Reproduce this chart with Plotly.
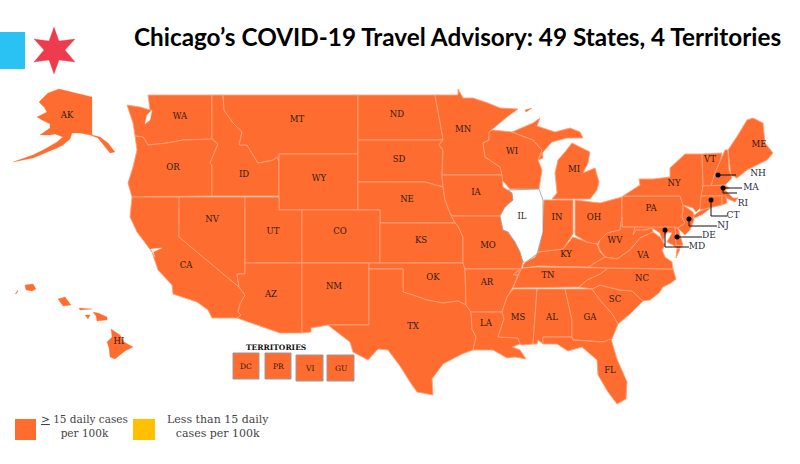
import plotly.graph_objects as go

TITLE = "Chicago’s COVID-19 Travel Advisory: 49 States, 4 Territories"
ORANGE = "#FF6C2F"
BORDER = "#FFA27A"

# State outlines
WA = [(148,95),(212,95),(212,139),(183,140),(167,143),(148,145),(143,137),(135,136),(133,123),(127,105),(140,107),(150,110)]
OR = [(135,136),(143,137),(148,145),(167,143),(183,140),(212,139),(218,144),(210,163),(212,165),(212,196),(132,197),(128,183),(133,167),(137,150)]
ID = [(212,95),(223,95),(224,110),(233,123),(242,132),(239,145),(247,145),(253,155),(258,163),(273,160),(277,157),(279,161),(279,196),(212,196),(212,165),(210,163),(218,144),(212,139)]
MT = [(223,95),(358,95),(358,154),(279,154),(279,161),(277,157),(273,160),(258,163),(253,155),(247,145),(239,145),(242,132),(233,123),(224,110)]
WY = [(279,154),(358,154),(358,210),(279,210)]
ND = [(358,95),(435,95),(442,133),(443,140),(358,140)]
SD = [(358,140),(443,140),(439,145),(443,150),(442,175),(443,187),(425,182),(358,182)]
NE = [(358,182),(425,182),(443,187),(445,200),(450,213),(455,223),(380,223),(380,210),(358,210)]
CA = [(132,197),(179,197),(179,237),(239,287),(245,295),(240,304),(238,312),(241,315),(237,318),(212,318),(208,310),(197,302),(173,294),(172,285),(158,270),(152,252),(137,232),(130,217)]
NV = [(179,197),(245,197),(245,274),(237,274),(239,287),(179,237)]
UT = [(245,197),(279,197),(279,210),(302,210),(302,263),(245,263)]
CO = [(302,210),(380,210),(380,263),(302,263)]
AZ = [(245,263),(302,263),(302,333),(280,333),(237,318),(241,315),(238,312),(240,304),(245,295),(239,287),(237,274),(245,274)]
NM = [(302,263),(369,263),(369,325),(328,325),(311,328),(311,332),(302,333)]
KS = [(380,223),(455,223),(458,226),(463,237),(463,263),(380,263)]
OK = [(369,263),(463,263),(465,269),(466,305),(458,301),(443,303),(427,300),(413,295),(403,292),(403,269),(369,269)]
TX = [(369,269),(403,269),(403,292),(413,295),(427,300),(443,303),(458,301),(466,305),(471,312),(472,329),(476,337),(473,350),(462,354),(443,364),(432,379),(433,395),(417,392),(410,382),(400,366),(388,350),(378,349),(368,360),(353,352),(350,342),(333,329),(328,325),(369,325)]
MN = [(435,95),(458,95),(458,89),(463,98),(473,98),(488,103),(500,108),(518,109),(507,117),(492,129),(489,132),(489,140),(483,143),(485,157),(500,167),(502,175),(442,175),(443,150),(439,145),(443,140),(442,133)]
WI = [(492,130),(512,132),(533,140),(542,150),(543,158),(538,160),(542,170),(539,189),(510,189),(502,180),(502,175),(500,167),(485,157),(483,143),(489,140),(489,132)]
IA = [(442,175),(502,175),(503,187),(512,193),(513,200),(505,207),(500,216),(453,216),(450,213),(445,200),(443,187)]
MO = [(453,216),(500,216),(503,230),(508,232),(515,242),(520,252),(523,262),(521,269),(518,275),(513,275),(520,269),(465,269),(463,263),(463,237),(458,226),(455,223),(450,213)]
AR = [(465,269),(520,269),(513,275),(518,275),(513,287),(507,297),(502,312),(471,312),(466,305)]
LA = [(471,312),(502,312),(504,319),(498,337),(518,338),(520,344),(512,347),(520,350),(526,359),(515,357),(507,358),(493,350),(473,350),(476,337),(472,329)]
MS = [(513,289),(537,289),(533,344),(522,345),(520,344),(518,338),(498,337),(504,319),(502,312),(507,297)]
AL = [(537,289),(565,289),(572,320),(572,337),(543,337),(543,344),(538,340),(537,344),(533,344)]
GA = [(565,289),(592,289),(600,300),(613,315),(618,324),(612,339),(605,342),(573,340),(572,337),(572,320)]
FL = [(543,337),(572,337),(573,340),(603,342),(611,339),(612,342),(617,359),(627,382),(626,399),(617,404),(608,392),(598,375),(597,360),(582,347),(568,351),(557,344),(543,344)]
SC = [(592,289),(600,285),(620,290),(632,291),(643,301),(630,314),(618,324),(613,315),(600,300)]
NC = [(608,268),(673,269),(676,279),(671,283),(663,287),(659,293),(650,300),(643,301),(632,291),(620,290),(600,285),(592,289),(579,287),(587,280),(600,274)]
TN = [(523,268),(537,267),(608,268),(600,274),(587,280),(579,287),(513,288),(518,275),(521,269)]
KY = [(523,265),(526,262),(535,257),(538,252),(563,249),(573,237),(587,242),(597,244),(600,252),(605,257),(588,267),(537,266),(523,268)]
IL = [(508,190),(539,189),(543,200),(543,232),(537,254),(526,262),(523,262),(520,252),(515,242),(508,232),(503,230),(500,216),(505,207),(513,200),(512,193)]
IN = [(544,200),(573,200),(573,234),(563,249),(538,252),(542,234)]
OH = [(575,200),(592,202),(600,203),(622,197),(622,217),(620,230),(607,233),(600,240),(597,244),(587,242),(575,235)]
MI_LOWER = [(552,199),(557,193),(555,173),(558,160),(565,152),(572,143),(590,152),(588,163),(583,173),(595,168),(599,182),(597,190),(590,199)]
MI_UPPER = [(512,132),(525,126),(533,123),(540,118),(537,126),(543,128),(555,132),(570,128),(580,132),(583,138),(575,138),(567,138),(552,142),(543,152),(538,160),(542,150),(533,140)]
ISLE_ROYALE = [(525,110),(532,108),(526,112)]
PA = [(622,197),(623,196),(680,196),(683,205),(683,210),(682,217),(685,223),(678,228),(622,227)]
NY = [(685,154),(702,154),(703,185),(702,196),(701,207),(696,212),(693,208),(683,205),(680,196),(623,196),(640,185),(639,179),(653,179),(670,177),(670,168)]
LONG_ISLAND = [(693,216),(700,211),(712,207),(703,214),(695,218)]
VT = [(702,154),(722,153),(720,162),(715,173),(711,186),(703,186)]
NH = [(725,150),(728,150),(729,170),(732,178),(725,185),(711,186),(715,173),(720,162)]
ME = [(728,150),(738,135),(747,120),(753,118),(763,123),(765,143),(773,153),(767,160),(757,165),(747,170),(737,178),(731,175)]
MA = [(703,186),(725,185),(729,188),(725,190),(733,198),(738,198),(735,202),(727,198),(722,196),(701,196)]
CT = [(701,196),(722,196),(722,205),(710,208),(700,210)]
RI = [(722,196),(726,196),(727,203),(722,205)]
NJ = [(683,205),(693,212),(694,220),(690,230),(685,235),(678,228),(685,223),(682,217),(683,210)]
DE = [(675,228),(678,228),(683,245),(676,246)]
MD = [(635,227),(675,227),(676,246),(683,246),(678,249),(673,245),(667,242),(672,233),(668,232),(665,235),(663,242),(660,233),(652,228),(645,230),(636,230),(633,235)]
WV = [(622,217),(622,227),(635,227),(633,235),(636,230),(645,230),(652,228),(653,232),(640,238),(630,250),(617,259),(605,257),(600,250),(598,245),(600,240),(607,233),(620,230)]
VA = [(588,267),(605,257),(617,259),(630,250),(640,238),(653,232),(660,237),(665,245),(662,250),(665,257),(672,262),(673,269),(608,268)]
VA_SHORE = [(677,249),(680,249),(676,258)]
AK = [(59,89),(72,92),(92,97),(92,135),(100,137),(108,143),(115,152),(110,153),(103,144),(98,138),(90,135),(80,133),(72,133),(70,139),(63,145),(57,148),(45,153),(33,158),(13,162),(33,155),(45,149),(57,142),(63,137),(55,134),(50,135),(40,135),(50,128),(50,124),(42,120),(37,117),(47,112),(44,107),(39,102),(48,93)]
HI_BIG = [(111,329),(120,335),(124,342),(133,347),(125,351),(115,359),(110,357),(109,348),(107,342),(112,337)]
HI_MAUI = [(93,312),(98,313),(107,317),(107,320),(97,321),(96,316)]
HI_OAHU = [(58,299),(65,297),(71,305),(63,306)]
HI_KAUAI = [(25,285),(33,284),(36,289),(32,291),(26,290)]
HI_MOLOKAI = [(79,308),(92,309),(80,310)]
HI_LANAI = [(85,315),(90,315),(88,319)]
HI_NIIHAU = [(15,294),(18,290),(17,293)]
PUGET = [(147,115),(152,110),(150,120),(145,124)]
SF_BAY = [(151,249),(162,248),(153,252),(155,257)]
STAR = [(54,27),(59,41),(75,39),(65,50),(75,62),(59,60),(54,74),(49,60),(34,62),(44,50),(34,39),(49,41)]

ORANGE_SHAPES = [WA,OR,ID,MT,WY,ND,SD,NE,CA,NV,UT,CO,AZ,NM,KS,OK,TX,MN,WI,IA,MO,AR,LA,MS,AL,GA,FL,SC,NC,TN,KY,IN,OH,
                 MI_LOWER,MI_UPPER,PA,NY,LONG_ISLAND,VT,NH,ME,MA,CT,RI,NJ,DE,MD,WV,VA,VA_SHORE]
ISLANDS = [AK,HI_BIG,HI_MAUI,HI_OAHU,HI_KAUAI,HI_MOLOKAI,HI_LANAI,HI_NIIHAU,ISLE_ROYALE]
WATER = [PUGET,SF_BAY]

STATE_CODES = ["AK","WA","MT","ND","MN","WI","MI","OR","ID","WY","SD","ME","VT","NY","IA","NE","NV","UT","CO","IL","IN","OH","PA","KS","MO","KY","WV","VA","CA","AZ","NM","OK","TN","AR","NC","SC","GA","AL","MS","LA","TX","FL","HI"]
CODE_X = [67,180,297,397,463,512,574,173,244,319,399,759,710,674,476,407,212,273,340,522,557,594,651,421,488,566,615,643,186,271,334,433,548,487,642,615,590,552,518,486,413,610,119]
CODE_Y = [116,117,120,115,130,152,170,168,175,179,160,145,160,184,193,200,220,232,232,217,218,218,209,241,246,255,241,256,266,295,287,278,276,283,279,300,318,318,318,324,327,371,342]

TERRITORY_CODES = ["DC","PR","VI","GU"]
TERR_LEFT = [233,265,296,327]
TERR_RIGHT = [259,291,323,354]
TERR_TOP = [353,353,355,355]
TERR_BOTTOM = [379,379,381,381]

CALLOUT_CODES = ["NH","MA","RI","CT","NJ","DE","MD"]
CALLOUT_X = [758,751,743,733,723,709,697]
CALLOUT_Y = [174,188,204,216,226,236,247]
DOTS_X = [718,723,711,689,677,665]
DOTS_Y = [175,188,200,219,237,230]
LEADERS = [
    [(718,175),(736,175)],
    [(723,188),(742,188)],
    [(723,188),(723,193),(737,193)],
    [(711,200),(711,216),(727,216)],
    [(689,219),(689,226),(717,226)],
    [(677,237),(702,237)],
    [(665,230),(665,247),(689,247)],
]

fig = go.Figure()

def polygon(points, fill, line, width=0.9):
    xs = [p[0] for p in points] + [points[0][0]]
    ys = [p[1] for p in points] + [points[0][1]]
    fig.add_trace(go.Scatter(x=xs, y=ys, mode="lines", fill="toself", fillcolor=fill,
                             line=dict(color=line, width=width), hoverinfo="skip", showlegend=False))

for shape in ISLANDS:
    polygon(shape, ORANGE, ORANGE, 0.3)
for shape in ORANGE_SHAPES:
    polygon(shape, ORANGE, BORDER)
polygon(IL, "#FFFFFF", "#8A8A8A", 0.7)
for shape in WATER:
    polygon(shape, "#FFFFFF", "#FFFFFF", 0.3)
polygon(STAR, "#EF3B4E", "#EF3B4E", 0.3)

for leader in LEADERS:
    fig.add_trace(go.Scatter(x=[p[0] for p in leader], y=[p[1] for p in leader], mode="lines",
                             line=dict(color="#111111", width=1), hoverinfo="skip", showlegend=False))
fig.add_trace(go.Scatter(x=DOTS_X, y=DOTS_Y, mode="markers", marker=dict(color="#000000", size=5),
                         hoverinfo="skip", showlegend=False))

SERIF = "DejaVu Serif"
fig.add_trace(go.Scatter(x=CODE_X, y=CODE_Y, text=STATE_CODES, mode="text", hoverinfo="skip", showlegend=False,
                         textfont=dict(family=SERIF, size=8.5, color="#2B1A12")))
fig.add_trace(go.Scatter(x=CALLOUT_X, y=CALLOUT_Y, text=CALLOUT_CODES, mode="text", hoverinfo="skip", showlegend=False,
                         textfont=dict(family=SERIF, size=9, color="#1F2A44")))

shapes = [dict(type="rect", x0=0, x1=25, y0=32, y1=69, fillcolor="#29C2F2", line_width=0, layer="below"),
          dict(type="rect", x0=15, x1=36, y0=419, y1=440, fillcolor=ORANGE, line_width=0, layer="below"),
          dict(type="rect", x0=133, x1=155, y0=419, y1=440, fillcolor="#FFC000", line_width=0, layer="below")]
annotations = [
    dict(x=457, y=36.5, text="<b>"+TITLE+"</b>", showarrow=False, font=dict(family="Lato", size=24.3, color="#000000")),
    dict(x=276, y=347, text="<b>TERRITORIES</b>", showarrow=False, font=dict(family=SERIF, size=7.5, color="#111111")),
    dict(x=84, y=426, text="<u>&gt;</u> 15 daily cases<br>per 100k", showarrow=False, align="center",
         font=dict(family=SERIF, size=10.5, color="#444444")),
    dict(x=218, y=426, text="Less than 15 daily<br>cases per 100k", showarrow=False, align="center",
         font=dict(family=SERIF, size=11, color="#444444")),
]
for code, x0, x1, y0, y1 in zip(TERRITORY_CODES, TERR_LEFT, TERR_RIGHT, TERR_TOP, TERR_BOTTOM):
    shapes.append(dict(type="rect", x0=x0, x1=x1, y0=y0, y1=y1, fillcolor=ORANGE,
                       line=dict(color="#9A9A9A", width=1), layer="below"))
    annotations.append(dict(x=(x0+x1)/2, y=(y0+y1)/2, text=code, showarrow=False,
                            font=dict(family=SERIF, size=7.5, color="#2B1A12")))

fig.update_layout(width=800, height=464, margin=dict(l=0, r=0, t=0, b=0),
                  paper_bgcolor="#FFFFFF", plot_bgcolor="#FFFFFF",
                  xaxis=dict(range=[0,800], visible=False, fixedrange=True),
                  yaxis=dict(range=[464,0], visible=False, fixedrange=True),
                  shapes=shapes, annotations=annotations, showlegend=False)
fig.write_html("out.html", config=dict(displayModeBar=False),
               post_script="document.body.style.margin='0';document.documentElement.style.overflow='hidden';")
